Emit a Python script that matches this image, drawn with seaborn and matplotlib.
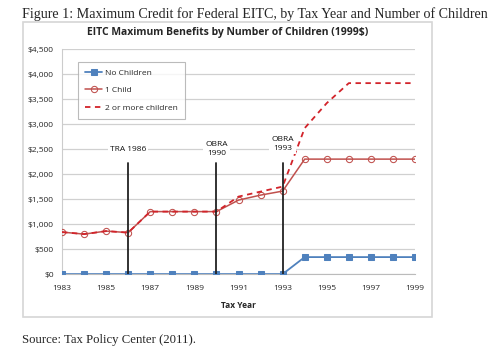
import numpy as np
import pandas as pd
import seaborn as sns
import matplotlib.pyplot as plt
from matplotlib.patches import Rectangle

years = list(range(1983, 2000))
no_children = [0, 0, 0, 0, 0, 0, 0, 0, 0, 0, 0, 340, 340, 340, 340, 340, 340]
one_child = [840, 800, 860, 830, 1250, 1250, 1250, 1250, 1480, 1580, 1660,
             2300, 2300, 2300, 2300, 2300, 2300]
two_plus = [840, 800, 860, 830, 1250, 1250, 1250, 1250, 1550, 1650, 1750,
            2920, 3420, 3820, 3820, 3820, 3820]
law_years = [1986, 1990, 1993]
law_labels = ['TRA 1986', 'OBRA\n1990', 'OBRA\n1993']
law_label_y = [2500, 2500, 2600]
law_top = 2220

sns.set_style('white')
plt.rcParams['font.family'] = ['Open Sans', 'DejaVu Sans']

df = pd.DataFrame({'year': years, 'No Children': no_children,
                   '1 Child': one_child, '2 or more children': two_plus})

fig = plt.figure(figsize=(5, 3.64), dpi=100)
ax = fig.add_axes([0.124, 0.247, 0.706, 0.618])

blue = '#4F81BD'
red = '#C0504D'

sns.lineplot(data=df, x='year', y='No Children', ax=ax, color=blue, marker='s',
             markersize=5, markeredgecolor=blue, linewidth=1.3, label='No Children', zorder=4)
sns.lineplot(data=df, x='year', y='1 Child', ax=ax, color=red, marker='o',
             markersize=4.5, markerfacecolor='none', markeredgecolor=red,
             linewidth=1.1, label='1 Child', zorder=3)
sns.lineplot(data=df, x='year', y='2 or more children', ax=ax, color='#D2232A',
             linestyle=(0, (3, 2.5)), linewidth=1.3, label='2 or more children', zorder=3)

for yr, lab, ly in zip(law_years, law_labels, law_label_y):
    ax.plot([yr, yr], [0, law_top], color='#222222', linewidth=1.3, zorder=5)
    ax.text(yr, ly, lab, ha='center', va='center', fontsize=6, color='#111111',
            linespacing=1.4, bbox=dict(facecolor='white', edgecolor='none', pad=1.5), zorder=6)

ax.set_xlim(1983, 1999)
ax.set_ylim(0, 4500)
ax.set_yticks(np.arange(0, 4501, 500))
ax.set_yticklabels(['${:,}'.format(v) for v in range(0, 4501, 500)], fontsize=6)
ax.set_xticks(range(1983, 2000, 2))
ax.set_xticks(range(1983, 2000), minor=True)
ax.tick_params(axis='x', which='both', length=3, color='#BBBBBB', labelsize=6, direction='out')
ax.tick_params(axis='x', which='major', pad=5)
ax.tick_params(axis='y', length=0, pad=6)
ax.yaxis.grid(True, color='#D0D0D0', linewidth=0.9)
ax.set_axisbelow(True)
for s in ['top', 'right']:
    ax.spines[s].set_visible(False)
ax.spines['left'].set_color('#CCCCCC')
ax.spines['bottom'].set_color('#BBBBBB')
ax.set_xlabel('Tax Year', fontsize=6, fontweight='bold')
ax.xaxis.set_label_coords(0.5, -0.12)
ax.set_ylabel('')
ax.set_title('EITC Maximum Benefits by Number of Children (1999$)', fontsize=7.5,
             fontweight='bold', pad=10, x=0.47)

leg = ax.legend(loc='upper left', bbox_to_anchor=(0.045, 0.945), fontsize=6,
                frameon=True, fancybox=False, edgecolor='#AAAAAA', borderpad=0.9,
                labelspacing=1.15, handlelength=2.0, handletextpad=0.3, borderaxespad=0)
leg.get_frame().set_linewidth(0.8)

fig.patches.append(Rectangle((23 / 500, 1 - 317 / 364), (432 - 23) / 500, (317 - 22) / 364,
                             transform=fig.transFigure, fill=False, edgecolor='#D6D6D6',
                             linewidth=1.2))

fig.text(22 / 500, 1 - 14 / 364,
         'Figure 1: Maximum Credit for Federal EITC, by Tax Year and Number of Children',
         fontsize=10.1, family='Liberation Serif', va='center', ha='left')
fig.text(22 / 500, 1 - 340 / 364, 'Source: Tax Policy Center (2011).',
         fontsize=9.2, family='Liberation Serif', va='center', ha='left')

fig.savefig('out.png', dpi=100)
